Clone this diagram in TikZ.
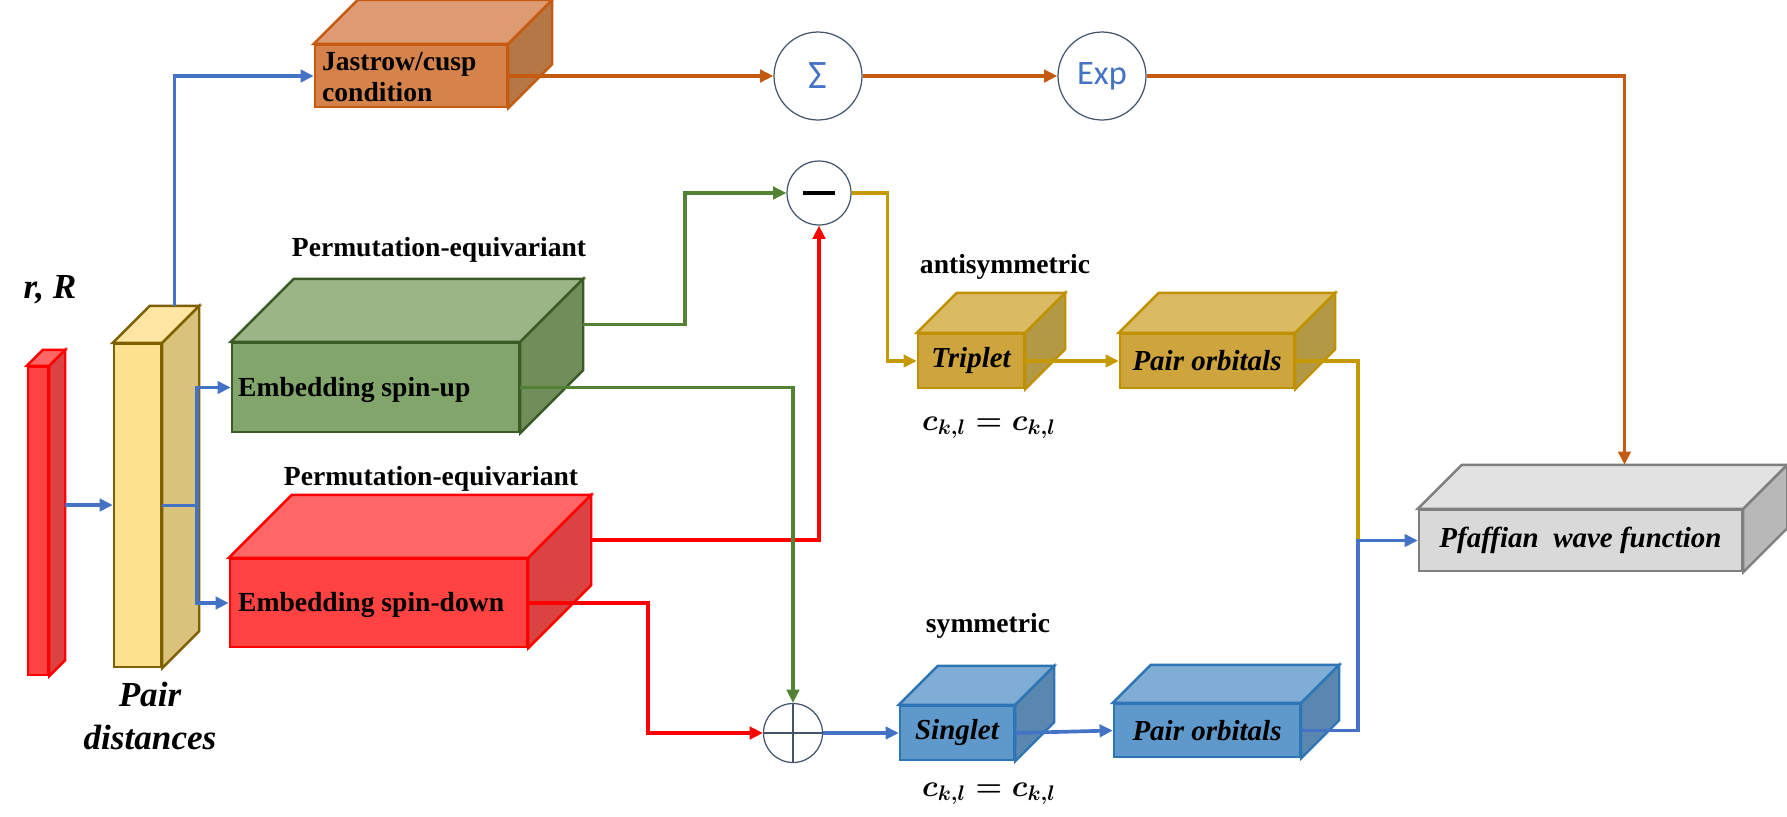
\documentclass[tikz,border=0pt]{standalone}
\usepackage{amsmath,amssymb}
\usepackage{fontspec}
\setmainfont{Liberation Serif}
\newfontfamily\calibri{Carlito}
\usepackage{tikz}
\usepackage{xcolor}
\usetikzlibrary{arrows.meta,positioning,calc}

% line colours
\definecolor{lineblue}{HTML}{4472C4}
\definecolor{lineorange}{HTML}{C55A11}
\definecolor{linegreen}{HTML}{548235}
\definecolor{linered}{HTML}{FF0000}
\definecolor{linegold}{HTML}{C49A00}
\definecolor{opgray}{HTML}{44546A}
% box colours (front, top, side, edge)
\definecolor{jasfront}{HTML}{D6834B}\definecolor{jastop}{HTML}{DE9B72}\definecolor{jasside}{HTML}{B67746}
\definecolor{grnfront}{HTML}{82A56B}\definecolor{grntop}{HTML}{9BB587}\definecolor{grnside}{HTML}{718E5A}\definecolor{grnedge}{HTML}{3B5A26}
\definecolor{ylwfront}{HTML}{FFE28F}\definecolor{ylwtop}{HTML}{FFE7A3}\definecolor{ylwside}{HTML}{D9C27C}\definecolor{ylwedge}{HTML}{7F6000}
\definecolor{redfront}{HTML}{FF4343}\definecolor{redtop}{HTML}{FF6666}\definecolor{redside}{HTML}{DB4242}
\definecolor{gldfront}{HTML}{CEA53C}\definecolor{gldtop}{HTML}{DABA62}\definecolor{gldside}{HTML}{B39845}\definecolor{gldedge}{HTML}{BF9000}
\definecolor{blufront}{HTML}{5F98CB}\definecolor{blutop}{HTML}{80ADD6}\definecolor{bluside}{HTML}{5A87B0}\definecolor{bluedge}{HTML}{2E75B6}
\definecolor{gryfront}{HTML}{D9D9D9}\definecolor{grytop}{HTML}{E2E2E2}\definecolor{gryside}{HTML}{B8B8B8}\definecolor{gryedge}{HTML}{7F7F7F}

% top and side faces of a box: node, depth, top, side, edge
\newcommand{\cubefaces}[5]{%
  \filldraw[fill=#3, draw=#5, line width=1.4pt] (#1.north west) -- ++(#2,-#2)
    -- ($(#1.north east)+(#2,-#2)$) -- (#1.north east) -- cycle;
  \filldraw[fill=#4, draw=#5, line width=1.4pt] (#1.north east) -- ++(#2,-#2)
    -- ($(#1.south east)+(#2,-#2)$) -- (#1.south east) -- cycle;
  \coordinate (#1-top) at ($(#1.north)+(#2,-#2)$);
  \coordinate (#1-back) at ($(#1.east)+(#2,-#2)$);
}

\begin{document}
\begin{tikzpicture}[x=0.02cm, y=-0.02cm,
    cube/.style 2 args={draw, rectangle, inner sep=0pt, line width=1.4pt,
      minimum width=#1*0.02cm, minimum height=#2*0.02cm},
    lbl/.style={font=\fontsize{15.7}{17.6}\selectfont\bfseries, inner sep=0pt},
    ilbl/.style={font=\fontsize{16.5}{18}\selectfont\bfseries\itshape},
    big/.style={font=\fontsize{20}{24.5}\selectfont\bfseries\itshape, inner sep=0pt},
    ckl/.style={font=\fontsize{18}{18}\selectfont, inner sep=0pt},
    op/.style={circle, draw=opgray, line width=0.7pt, inner sep=0pt, fill=white},
    conn/.style={line width=2.1pt},
    tip/.style={-{Triangle[length=7.5pt,width=7pt]}},
  ]
  \useasboundingbox (0,0) rectangle (1787,816);

  % Input and pair distances
  \node[cube={20}{308}, fill=redfront, draw=linered] (rin) at (38,521) {};
  \node[cube={47}{323}, fill=ylwfront, draw=ylwedge] (pd) at (137.5,505.5) {};
  \node[big] (rR) at (50,290) {r, R};
  \node[big, align=center] (pdText) at (150,716) {Pair\\distances};

  % Embeddings
  \node[cube={287}{89}, fill=grnfront, draw=grnedge] (up) at (375.5,387.5) {};
  \node[cube={297}{88}, fill=redfront, draw=linered] (dn) at (378.5,603) {};
  \node[lbl, anchor=west] (upText) at ($(up.west)+(7,2)$) {Embedding spin-up};
  \node[lbl, anchor=west] (dnText) at ($(dn.west)+(9,2)$) {Embedding spin-down};
  \node[lbl] (peUp) at (439,250) {Permutation-equivariant};
  \node[lbl] (peDn) at (431,479) {Permutation-equivariant};

  % Jastrow branch
  \node[cube={192}{62}, fill=jasfront, draw=lineorange] (jas) at (411,76) {};
  \node[lbl, anchor=west, align=left] (jasText) at ($(jas.west)+(8,1)$) {Jastrow/cusp\\condition};
  \node[op, minimum size=1.76cm, font=\calibri\fontsize{23}{23}\selectfont, text=lineblue] (sigma) at (818,76) {Σ};
  \node[op, minimum size=1.76cm, font=\calibri\fontsize{19.5}{19.5}\selectfont, text=lineblue] (exp) at (1102,76) {Exp};

  % Combination
  \node[op, minimum size=1.28cm] (minus) at (819,193) {};
  \node[op, minimum size=1.18cm] (plus) at (793,733) {};
  \draw[line width=2.2pt] ($(minus.center)+(-16,0)$) -- ($(minus.center)+(16,0)$);
  \draw[opgray, line width=0.6pt] (plus.north) -- (plus.south) (plus.west) -- (plus.east);

  % Triplet / singlet
  \node[cube={106}{54}, fill=gldfront, draw=gldedge, ilbl] (tri) at (971,361) {Triplet};
  \node[cube={174}{54}, fill=gldfront, draw=gldedge, ilbl] (gpo) at (1207,361) {Pair orbitals};
  \node[cube={114}{54}, fill=blufront, draw=bluedge, ilbl] (sing) at (957,733) {Singlet};
  \node[cube={186}{53}, fill=blufront, draw=bluedge, ilbl] (bpo) at (1207,730.5) {Pair orbitals};
  \node[lbl] (anti) at (1005,267) {antisymmetric};
  \node[ckl] (cklUp) at (989,428) {$\boldsymbol{c_{k,l} = c_{k,l}}$};
  \node[lbl] (sym) at (988,626) {symmetric};
  \node[ckl] (cklDn) at (989,794) {$\boldsymbol{c_{k,l} = c_{k,l}}$};

  % Output
  \node[cube={323}{61}, fill=gryfront, draw=gryedge, ilbl] (pf) at (1580.5,540.5) {Pfaffian\ \ wave function};

  % Box depths
  \cubefaces{rin}{16}{redtop}{redside}{linered}
  \cubefaces{pd}{37}{ylwtop}{ylwside}{ylwedge}
  \cubefaces{up}{63}{grntop}{grnside}{grnedge}
  \cubefaces{dn}{63}{redtop}{redside}{linered}
  \cubefaces{jas}{44}{jastop}{jasside}{lineorange}
  \cubefaces{tri}{40}{gldtop}{gldside}{gldedge}
  \cubefaces{gpo}{40}{gldtop}{gldside}{gldedge}
  \cubefaces{sing}{39}{blutop}{bluside}{bluedge}
  \cubefaces{bpo}{38}{blutop}{bluside}{bluedge}
  \cubefaces{pf}{44}{grytop}{gryside}{gryedge}

  % Connectors
  \draw[conn, lineblue, tip] (rin-back) -- (rin-back -| pd.west);
  \draw[conn, lineblue] (pd.east) -- ++(35,0) coordinate (split);
  \draw[conn, lineblue, tip] (split) |- (up.west);
  \draw[conn, lineblue, tip] (split) |- (dn.west);
  \draw[conn, lineblue, tip] (pd-top) |- (jas.west);

  \draw[conn, lineorange, tip] (jas.east) -- (sigma.west);
  \draw[conn, lineorange, tip] (sigma.east) -- (exp.west);
  \draw[conn, lineorange, tip] (exp.east) -| (pf-top);

  \draw[conn, linegreen, tip] (up-back) -- ++(102,0) |- (minus.west);
  \draw[conn, linered, tip] (dn-back) -| (minus.south);
  \draw[conn, linegreen, tip] (up.east) -| (plus.north);
  \draw[conn, linered, tip] (dn.east) -- ++(120,0) |- (plus.west);

  \draw[conn, linegold, tip] (minus.east) -- ++(36,0) |- (tri.west);
  \draw[conn, linegold, tip] (tri.east) -- (gpo.west);
  \draw[conn, lineblue, tip] (plus.east) -- (sing.west);
  \draw[conn, lineblue, tip] (sing.east) -- (bpo.west);

  \coordinate (join) at ($(pf.west)+(-60,0)$);
  \draw[conn, linegold] (gpo.east) -| (join);
  \draw[conn, lineblue, tip] (bpo.east) -| (join) -- (pf.west);
\end{tikzpicture}
\end{document}
